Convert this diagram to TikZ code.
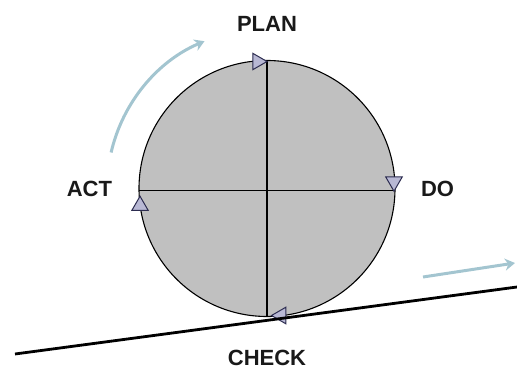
\documentclass[tikz,border=0pt]{standalone}
\usepackage{fontspec}
\setmainfont{Liberation Sans}
\usetikzlibrary{arrows.meta,positioning,calc,shapes.geometric}
\definecolor{pdWheel}   {HTML}{C0C0C0}
\definecolor{pdHead}    {HTML}{B8B8D4}
\definecolor{pdHeadLine}{HTML}{2C2C50}
\definecolor{pdFlow}    {HTML}{A3C5D0}

\begin{document}
\begin{tikzpicture}[x=1pt,y=1pt,
      wheel/.style={circle,draw=black,line width=1.1pt,fill=pdWheel,
                    minimum size=256pt,inner sep=0pt,outer sep=0pt},
      stage/.style={font=\fontsize{22}{26}\selectfont\bfseries,text=black!90,
                    inner sep=0pt,outer sep=0pt},
      cyclehead/.style={regular polygon,regular polygon sides=3,draw=pdHeadLine,
                    line width=1pt,fill=pdHead,minimum size=19pt,inner sep=0pt},
      spoke/.style={line width=1.1pt},
      flowarrow/.style={-{Stealth[length=10pt,width=12pt]},line width=3pt,pdFlow}]
    \useasboundingbox (0,0) rectangle (517,373);
    % the wheel and its cross
    \node[wheel] (w) at (267,184.5) {};
    \draw[spoke] (w.north) -- (w.south);
    \draw[spoke] (w.181.5) -- (w.-1.5);
    % heads on the rim, clockwise
    \node[cyclehead,shape border rotate=-90] (hPlan)  at ($(w.north)+(-9.5,-1)$) {};
    \node[cyclehead,shape border rotate=180] (hDo)    at ($(w.-1.5)+(-1,9)$) {};
    \node[cyclehead,shape border rotate=90]  (hCheck) at ($(w.south)+(14,1)$) {};
    \node[cyclehead]                         (hAct)   at ($(w.181.5)+(1,-15)$) {};
    % stage names
    \node[stage,above=29pt of w] (plan)  {PLAN};
    \node[stage,right=26pt of w] (do)    {DO};
    \node[stage,below=34pt of w] (check) {CHECK};
    \node[stage,left=27pt of w]  (act)   {ACT};
    % ground and motion
    \coordinate (groundL) at (15,19);
    \coordinate (groundR) at (517,86);
    \draw[line width=2.8pt] (groundL) -- (groundR);
    \coordinate (arcFrom) at (111.1,220.5);
    \draw[flowarrow] (arcFrom) arc[start angle=167,end angle=113,radius=160];
    \coordinate (driftFrom) at (423,96);
    \coordinate (driftTo)   at (515,110);
    \draw[flowarrow] (driftFrom) -- (driftTo);
  \end{tikzpicture}
\end{document}
